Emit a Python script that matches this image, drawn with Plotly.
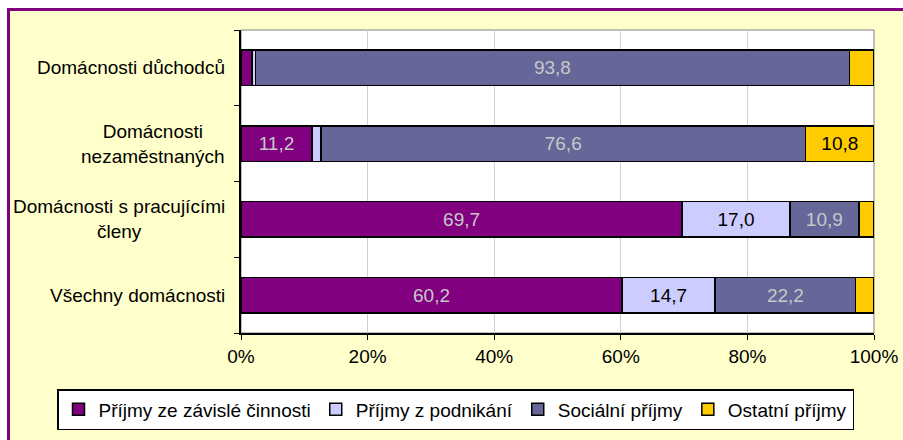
import plotly.graph_objects as go

categories = ["Všechny domácnosti", "Domácnosti s pracujícími<br>členy",
              "Domácnosti<br>nezaměstnaných", "Domácnosti důchodců"]
series_names = ["Příjmy ze závislé činnosti", "Příjmy z podnikání",
                "Sociální příjmy", "Ostatní příjmy"]
zavisla = [60.2, 69.7, 11.2, 1.7]
podnikani = [14.7, 17.0, 1.4, 0.6]
socialni = [22.2, 10.9, 76.6, 93.8]
ostatni = [2.9, 2.4, 10.8, 3.9]
x_ticks = [0, 20, 40, 60, 80, 100]
x_tick_labels = ["0%", "20%", "40%", "60%", "80%", "100%"]

series_values = [zavisla, podnikani, socialni, ostatni]
colors = ["#800080", "#CCCCFF", "#666699", "#FFCC00"]
text_colors = ["#C8C8C8", "#000000", "#C8C8C8", "#000000"]

FONT = "Arial, Liberation Sans, sans-serif"
W, H = 903, 440
L, R, T, B = 241, 29, 30, 107
pw, ph = W - L - R, H - T - B

def px2x(px):
    return (px - L) / pw

def py2y(py):
    return (H - B - py) / ph

fig = go.Figure()
for name, vals, col, tcol in zip(series_names, series_values, colors, text_colors):
    fig.add_trace(go.Bar(
        y=categories, x=vals, name=name, orientation="h",
        marker=dict(color=col, line=dict(color="black", width=1.5)),
        text=[f"{v:.1f}".replace(".", ",") if v >= 10 else "" for v in vals],
        textposition="inside", insidetextanchor="middle", textangle=0,
        textfont=dict(family=FONT, size=19, color=tcol),
        constraintext="none", hoverinfo="skip",
    ))

shapes = [
    dict(type="rect", xref="paper", yref="paper", layer="below",
         x0=px2x(8.5), x1=px2x(910), y0=py2y(9.5), y1=py2y(450),
         fillcolor="#FFFFCC", line=dict(color="#800080", width=3)),
    dict(type="rect", xref="paper", yref="paper", layer="below",
         x0=0, x1=1, y0=0, y1=1, fillcolor="white",
         line=dict(color="#808080", width=1)),
]

annotations = [
    dict(x=0, y=c, xref="paper", yref="y", text=c, showarrow=False,
         xanchor="right", yanchor="middle", align="center", xshift=-14,
         font=dict(family=FONT, size=19, color="black"))
    for c in categories
]

fig.update_layout(
    width=W, height=H,
    margin=dict(l=L, r=R, t=T, b=B, autoexpand=False),
    paper_bgcolor="white", plot_bgcolor="white",
    barmode="stack", bargap=0.53,
    font=dict(family=FONT, size=19, color="black"),
    shapes=shapes, annotations=annotations,
    showlegend=True,
    legend=dict(orientation="h", x=px2x(57), xanchor="left",
                y=py2y(389), yanchor="top",
                bgcolor="white", bordercolor="black", borderwidth=1.5,
                font=dict(family=FONT, size=19, color="black"),
                traceorder="normal", itemwidth=30),
    xaxis=dict(range=[0, 100], tickvals=x_ticks, ticktext=x_tick_labels,
               showgrid=True, gridcolor="#D0D0D0", gridwidth=1,
               showline=True, linecolor="black", linewidth=1.5,
               ticks="outside", ticklen=5, tickcolor="black",
               tickfont=dict(family=FONT, size=19), zeroline=False,
               fixedrange=True),
    yaxis=dict(showticklabels=False, showgrid=False, showline=True,
               linecolor="black", linewidth=1.5, ticks="outside",
               ticklen=5, tickcolor="black", tickson="boundaries",
               range=[-0.5, 3.5], fixedrange=True),
)

fig.write_html("out.html", config={"displayModeBar": False},
               post_script="document.body.style.margin='0px';"
                           "document.body.style.overflow='hidden';")
